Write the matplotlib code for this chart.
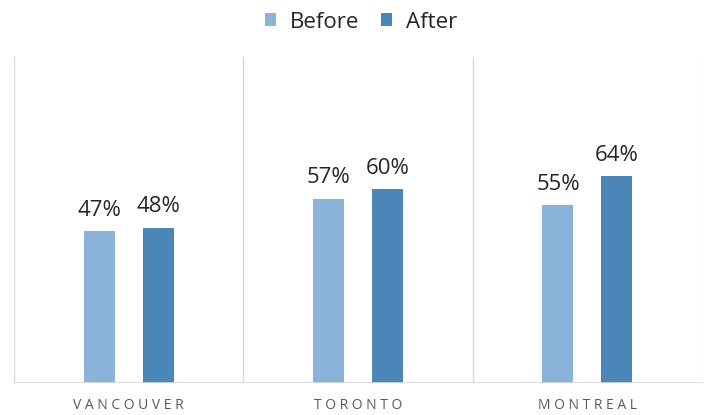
import matplotlib
matplotlib.use("Agg")
import matplotlib.pyplot as plt
import numpy as np

cities = ["VANCOUVER", "TORONTO", "MONTREAL"]
before = [47, 57, 55]
after = [48, 60, 64]
series_names = ["Before", "After"]
colors = ["#8AB3DC", "#4A86B8"]

plt.rcParams['font.family'] = ['Open Sans', 'DejaVu Sans']

fig = plt.figure(figsize=(7.04, 4.15), dpi=100)
ax = fig.add_axes([14/704, 1-383/415, (702-14)/704, (383-57)/415])

x = np.arange(len(cities))
w = 0.135
off = 0.128
b1 = ax.bar(x - off, before, w, color=colors[0], label=series_names[0])
b2 = ax.bar(x + off, after, w, color=colors[1], label=series_names[1])

for bars, vals in ((b1, before), (b2, after)):
    for r, v in zip(bars, vals):
        ax.text(r.get_x() + r.get_width()/2, v + 3.3, f"{v}%", ha="center", va="bottom",
                fontsize=16, color="#262626")

ax.set_xlim(-0.5, 2.5)
ax.set_ylim(0, 101)
for s in ax.spines.values():
    s.set_visible(False)
for b in [-0.5, 0.5, 1.5, 2.5]:
    ax.axvline(b, color="#D9D9D9", lw=1)
ax.axhline(0, color="#D9D9D9", lw=1.2)
ax.set_yticks([])
ax.set_xticks(x)
ax.set_xticklabels([" ".join(c) for c in cities], fontsize=10, color="#595959")
ax.tick_params(axis="x", length=0, pad=11)

fig.legend(handles=[b1, b2], labels=series_names, loc="upper center", bbox_to_anchor=(0.513, 1.02),
           ncol=2, frameon=False, fontsize=16, handlelength=0.5, handleheight=0.5,
           handletextpad=0.6, columnspacing=1.0, labelcolor="#262626")

fig.savefig("out.png", dpi=100)
